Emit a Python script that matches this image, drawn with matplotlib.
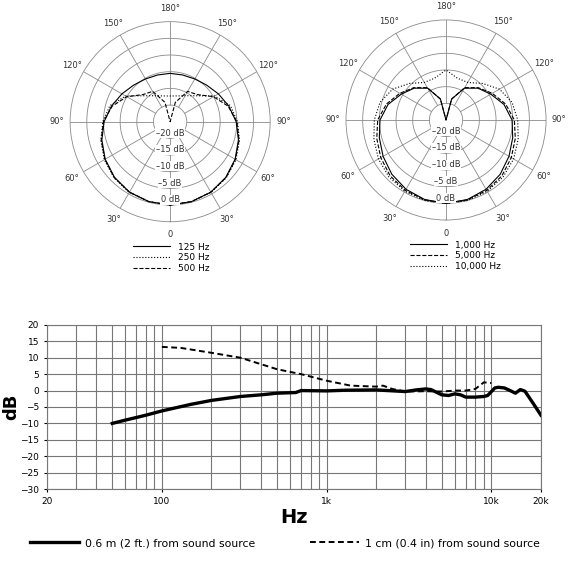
import numpy as np
import matplotlib
matplotlib.use("Agg")
import matplotlib.pyplot as plt
from matplotlib.lines import Line2D

# polar data, dB at 0..180 deg in 15 deg steps (mirrored)
angles_deg = [0, 15, 30, 45, 60, 75, 90, 105, 120, 135, 150, 165, 180]
db_125 = [0, -0.2, -0.6, -1.4, -2.5, -3.8, -5.2, -6.8, -8.3, -9.5, -10.2, -10.5, -10.5]
db_250 = [0, -0.2, -0.5, -1.2, -2.2, -3.5, -4.8, -6.3, -9.6, -14, -16, -17, -17.3]
db_500 = [0, -0.2, -0.6, -1.3, -2.4, -3.6, -5, -7, -10, -13.5, -14.5, -19, -25]
db_1k = [0, -0.3, -1, -2, -3.2, -4.3, -5.2, -7, -9.5, -11.5, -14, -18.5, -25]
db_5k = [0, -0.2, -0.6, -1.3, -2.4, -3.5, -4.5, -6.5, -9, -11.3, -13.8, -18.5, -25]
db_10k = [0, 0, -0.3, -0.8, -1.6, -2.6, -3.5, -4.5, -6.5, -9.5, -12, -12, -10]

# frequency response
far_hz = [50, 60, 70, 80, 100, 150, 200, 300, 400, 500, 650, 700, 1000, 1300, 2000,
          3000, 3500, 4000, 4300, 5000, 5500, 6000, 6500, 7000, 8000, 9000, 9500,
          10500, 11000, 12000, 13000, 14000, 15000, 16000, 18000, 20000]
far_db = [-10, -9, -8.2, -7.5, -6.2, -4.2, -3, -1.8, -1.3, -0.8, -0.6, 0, -0.1, 0.1, 0.2,
          -0.3, 0.2, 0.5, 0.3, -1.3, -1.5, -1, -1.3, -2, -2, -1.8, -1.5,
          0.8, 1, 0.8, 0, -0.8, 0.3, -0.2, -4, -7.5]
near_hz = [100, 130, 200, 300, 500, 700, 1000, 1400, 2000, 2200, 2500, 3000, 4000,
           5000, 6000, 7000, 8000, 9000, 10000]
near_db = [13.3, 13, 11.5, 10, 6.5, 5, 3, 1.5, 1.2, 1.5, 0.5, -0.3, -0.2,
           -0.3, 0, 0, 0.5, 2.5, 2.3]

ring_db = [-20, -15, -10, -5, 0]
GRID = "#8a8a8a"

fig = plt.figure(figsize=(5.7, 5.7), dpi=100)


def full(vals):
    a = np.array(angles_deg + [360 - d for d in angles_deg[::-1][1:]])
    v = np.array(vals + vals[::-1][1:])
    return np.deg2rad(a), np.array(v) + 25


def polar(rect, series, labels, styles, leg_xy):
    ax = fig.add_axes(rect, projection="polar")
    ax.set_theta_zero_location("S")
    ax.set_ylim(0, 30)
    ax.set_rgrids([5, 10, 15, 20, 25], labels=[])
    ax.grid(False)
    for r in [5, 10, 15, 20, 25]:
        t = np.linspace(0, 2 * np.pi, 200)
        ax.plot(t, np.full_like(t, r), color=GRID, lw=0.6)
    for d in range(0, 360, 30):
        ax.plot([np.deg2rad(d)] * 2, [5, 30], color=GRID, lw=0.6)
    ax.spines["polar"].set_color(GRID)
    ax.spines["polar"].set_linewidth(0.6)
    lab = []
    for d in range(0, 360, 30):
        v = d if d <= 180 else 360 - d
        lab.append("0" if v == 0 else f"{v}°")
    ax.set_thetagrids(range(0, 360, 30), labels=lab, fontsize=6, color="#333333")
    ax.tick_params(pad=-1)
    for db in ring_db:
        ax.text(0, db + 25 - 1.6, f"\u2013{-db} dB" if db < 0 else "0 dB",
                ha="center", va="center", fontsize=6, color="#333333",
                bbox=dict(facecolor="white", edgecolor="none", pad=0.3))
    handles = []
    for vals, ls in zip(series, styles):
        t, r = full(vals)
        ax.plot(t, r, color="black", lw=0.8, ls=ls)
        handles.append(Line2D([], [], color="black", lw=0.8, ls=ls))
    fig.legend(handles, labels, loc="upper left", bbox_to_anchor=leg_xy, frameon=False,
               fontsize=6.5, handlelength=4.2, labelspacing=0.2, borderpad=0)


polar([0.123, 0.611, 0.351, 0.351], [db_125, db_250, db_500],
      ["125 Hz", "250 Hz", "500 Hz"], ["-", ":", "--"], (128 / 570, 1 - 238 / 570))
polar([0.607, 0.614, 0.351, 0.351], [db_1k, db_5k, db_10k],
      ["1,000 Hz", "5,000 Hz", "10,000 Hz"], ["-", "--", ":"], (405 / 570, 1 - 236 / 570))

ax = fig.add_axes([0.082, 0.142, 0.867, 0.288])
ax.set_xscale("log")
ax.set_xlim(20, 20000)
ax.set_ylim(-30, 20)
ax.set_yticks(range(-30, 21, 5))
ax.set_xticks([20, 100, 1000, 10000, 20000])
ax.set_xticklabels(["20", "100", "1k", "10k", "20k"])
ax.grid(True, which="both", axis="x", color="#777777", lw=0.8)
ax.grid(True, which="major", axis="y", color="#777777", lw=0.8)
ax.tick_params(labelsize=6.5, length=2, which="both")
ax.tick_params(which="minor", length=0)
for s in ax.spines.values():
    s.set_color("#777777")
ax.plot(far_hz, far_db, color="black", lw=2.4, label="0.6 m (2 ft.) from sound source")
ax.plot(near_hz, near_db, color="black", lw=1.4, ls=(0, (3, 1.8)),
        label="1 cm (0.4 in) from sound source")
ax.set_ylabel("dB", fontsize=13, fontweight="bold", labelpad=0)
ax.set_xlabel("Hz", fontsize=14, fontweight="bold", labelpad=2)
fig.legend(loc="center", bbox_to_anchor=(0.5, 1 - 543 / 570), ncol=2, frameon=False,
           fontsize=7.8, handlelength=4.5, handletextpad=0.6, columnspacing=5.0)

fig.savefig("out.png", dpi=100)
